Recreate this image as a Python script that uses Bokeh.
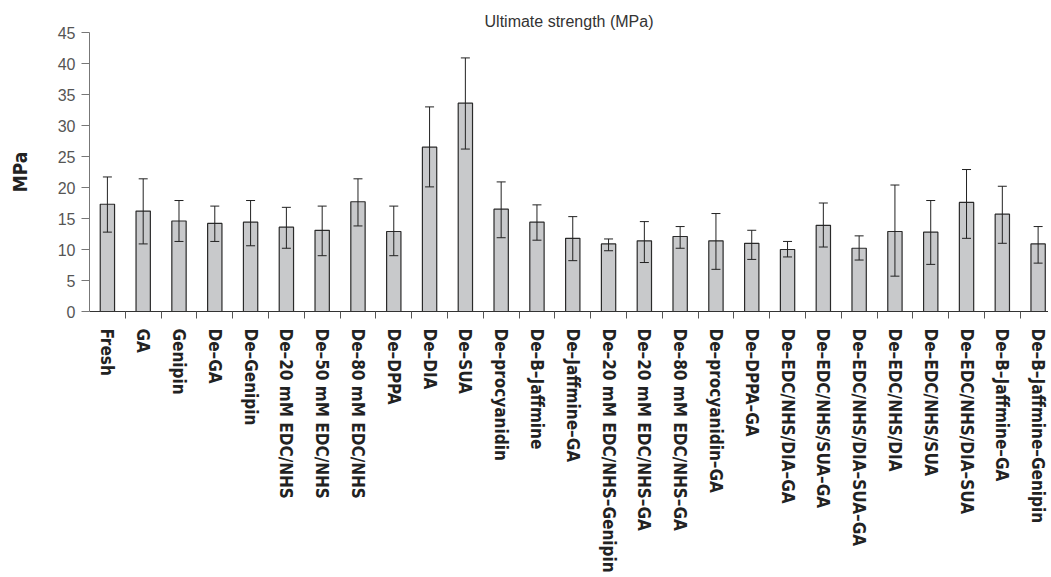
from bokeh.plotting import figure
from bokeh.models import Range1d, FixedTicker, Whisker, ColumnDataSource, TeeHead
from bokeh.embed import file_html
from bokeh.resources import INLINE

categories = ["Fresh", "GA", "Genipin", "De–GA", "De–Genipin",
              "De–20 mM EDC/NHS", "De–50 mM EDC/NHS", "De–80 mM EDC/NHS",
              "De–DPPA", "De–DIA", "De–SUA", "De–procyanidin", "De–B–Jaffmine",
              "De–Jaffmine–GA", "De–20 mM EDC/NHS–Genipin", "De–20 mM EDC/NHS–GA",
              "De–80 mM EDC/NHS–GA", "De–procyanidin–GA", "De–DPPA–GA",
              "De–EDC/NHS/DIA–GA", "De–EDC/NHS/SUA–GA", "De–EDC/NHS/DIA–SUA–GA",
              "De–EDC/NHS/DIA", "De–EDC/NHS/SUA", "De–EDC/NHS/DIA–SUA",
              "De–B–Jaffmine–GA", "De–B–Jaffmine–Genipin"]
mean_mpa = [17.3, 16.2, 14.6, 14.2, 14.4, 13.6, 13.1, 17.7, 12.9, 26.5, 33.6, 16.5, 14.4,
            11.8, 10.9, 11.4, 12.1, 11.4, 11.0, 10.0, 13.9, 10.2, 12.9, 12.8, 17.6, 15.7, 10.9]
upper_mpa = [21.7, 21.4, 17.9, 17.0, 17.9, 16.8, 17.0, 21.4, 17.0, 33.0, 40.9, 20.9, 17.2,
             15.3, 11.7, 14.5, 13.7, 15.8, 13.1, 11.3, 17.5, 12.2, 20.4, 17.9, 22.9, 20.2, 13.7]
lower_mpa = [12.8, 10.9, 11.3, 11.3, 10.6, 10.2, 9.0, 13.8, 9.0, 20.1, 26.2, 11.9, 11.5,
             8.2, 9.8, 7.9, 10.2, 6.8, 8.4, 8.8, 10.4, 8.3, 5.7, 7.6, 11.8, 11.0, 7.8]
y_ticks = [0, 5, 10, 15, 20, 25, 30, 35, 40, 45]

BOLD_FONT = "DejaVu Sans Condensed, Liberation Sans"

n = len(categories)
xpos = [i + 0.5 for i in range(n)]
src = ColumnDataSource(dict(x=xpos, top=mean_mpa, upper=upper_mpa, lower=lower_mpa))

p = figure(width=1048, height=575, output_backend="svg", toolbar_location=None,
           x_range=Range1d(0, 26.79), y_range=Range1d(0, 45),
           title="Ultimate strength (MPa)",
           min_border_left=89, min_border_right=0, min_border_top=32, min_border_bottom=262)
p.title.align = "center"
p.title.text_font = "Liberation Sans"
p.title.text_font_size = "16px"
p.title.text_font_style = "normal"
p.title.text_color = "#333333"
p.title.standoff = 6
p.outline_line_color = None
p.xgrid.visible = False
p.ygrid.visible = False
p.background_fill_color = "white"

p.vbar(x="x", top="top", width=0.4, bottom=0, source=src,
       fill_color="#c8c9cb", line_color="#2a2a2a", line_width=1.2)
w = Whisker(base="x", upper="upper", lower="lower", source=src,
            line_color="#222222", line_width=1, level="overlay",
            upper_head=TeeHead(size=9, line_color="#222222", line_width=1),
            lower_head=TeeHead(size=9, line_color="#222222", line_width=1))
p.add_layout(w)

# y axis
p.yaxis.ticker = FixedTicker(ticks=y_ticks)
p.yaxis.axis_label = "MPa"
p.yaxis.axis_label_text_font = BOLD_FONT
p.yaxis.axis_label_text_font_style = "bold"
p.yaxis.axis_label_text_font_size = "19px"
p.yaxis.axis_label_text_color = "#222222"
p.yaxis.axis_label_standoff = 24
p.yaxis.major_label_text_font = "Liberation Sans"
p.yaxis.major_label_text_font_size = "16px"
p.yaxis.major_label_text_color = "#555555"
p.yaxis.major_label_standoff = 6
p.yaxis.major_tick_out = 8
p.yaxis.major_tick_in = 0
p.yaxis.minor_tick_out = 0
p.yaxis.minor_tick_in = 0
p.yaxis.axis_line_color = "#777777"
p.yaxis.major_tick_line_color = "#777777"

# x axis: labels at centres, separators at boundaries
p.xaxis.ticker = FixedTicker(ticks=xpos, minor_ticks=list(range(1, n)))
p.xaxis.major_label_overrides = {x: c for x, c in zip(xpos, categories)}
p.xaxis.major_label_orientation = "vertical"
p.xaxis.major_label_text_font = BOLD_FONT
p.xaxis.major_label_text_font_style = "bold"
p.xaxis.major_label_text_font_size = "17px"
p.xaxis.major_label_text_color = "#222222"
p.xaxis.major_label_standoff = 10
p.xaxis.major_tick_out = 0
p.xaxis.major_tick_in = 0
p.xaxis.minor_tick_out = 7
p.xaxis.minor_tick_in = 0
p.xaxis.minor_tick_line_color = "#555555"
p.xaxis.axis_line_color = "#333333"

open("out.html", "w").write(file_html(p, INLINE))
